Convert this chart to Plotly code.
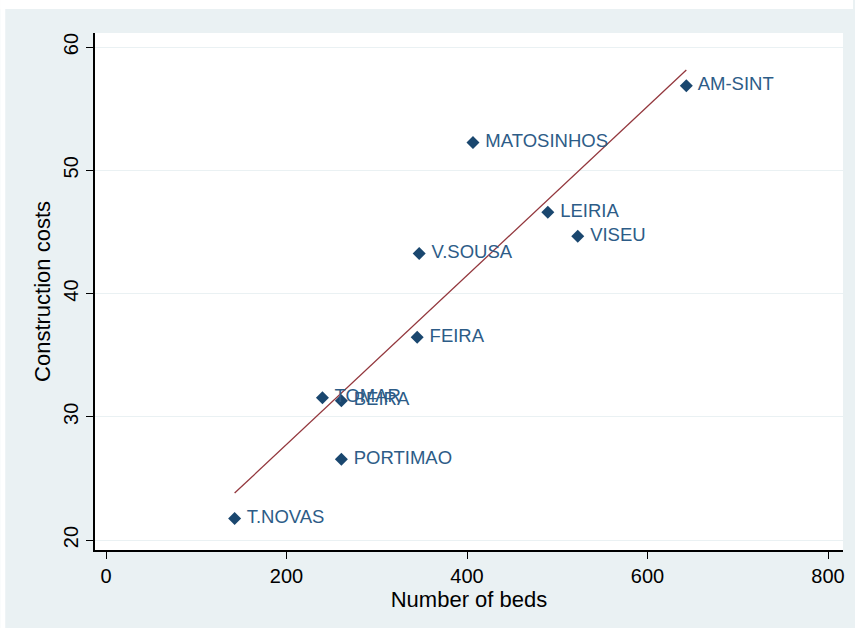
import numpy as np
import plotly.graph_objects as go

# Hospitals: number of beds vs construction costs
hospitals = ["T.NOVAS", "PORTIMAO", "TOMAR", "BEIRA", "FEIRA",
             "V.SOUSA", "MATOSINHOS", "LEIRIA", "VISEU", "AM-SINT"]
beds = [142.5, 260.8, 239.8, 260.8, 344.8, 347.0, 406.6, 489.5, 522.7, 643.0]
costs = [21.75, 26.55, 31.55, 31.3, 36.45, 43.25, 52.25, 46.6, 44.65, 56.85]

x_ticks = [0, 200, 400, 600, 800]
y_ticks = [20, 30, 40, 50, 60]

# Least-squares linear fit over the observed range of beds
slope, intercept = np.polyfit(beds, costs, 1)
fit_x = np.array([min(beds), max(beds)])
fit_y = slope * fit_x + intercept

W, H = 855, 628
L, R, T, B = 95, 10, 33, 78
PW, PH = W - L - R, H - T - B

NAVY = "#1a476f"
MAROON = "#93373d"
BG = "#eaf1f3"
FONT = "Liberation Sans, Arial, sans-serif"

fig = go.Figure()

fig.add_trace(go.Scatter(
    x=fit_x, y=fit_y, mode="lines",
    line=dict(color=MAROON, width=1.3),
    hoverinfo="skip", showlegend=False,
))

fig.add_trace(go.Scatter(
    x=beds, y=costs, mode="markers+text",
    text=[" " + h for h in hospitals], textposition="middle right",
    textfont=dict(family=FONT, size=18.5, color="#2d5c87"),
    marker=dict(symbol="diamond", size=10, color=NAVY),
    showlegend=False,
))


def px_x(p):
    return (p - L) / PW


def px_y(p):
    return (H - B - p) / PH


fig.update_layout(
    width=W, height=H,
    margin=dict(l=L, r=R, t=T, b=B),
    paper_bgcolor=BG, plot_bgcolor="white",
    font=dict(family=FONT, color="#000000"),
    shapes=[
        dict(type="rect", xref="paper", yref="paper", layer="below",
             x0=px_x(0), x1=px_x(W), y0=px_y(9), y1=px_y(0),
             fillcolor="white", line=dict(width=0)),
        dict(type="rect", xref="paper", yref="paper", layer="below",
             x0=px_x(0), x1=px_x(5), y0=px_y(H), y1=px_y(0),
             fillcolor="white", line=dict(width=0)),
    ],
    xaxis=dict(
        range=[-12.2, 816.6], tickvals=x_ticks,
        ticks="outside", ticklen=7, tickwidth=1.3, tickcolor="#000",
        showline=True, linecolor="#000", linewidth=1.5,
        showgrid=False, zeroline=False,
        tickfont=dict(size=20, family=FONT),
        title=dict(text="Number of beds", font=dict(size=22, family=FONT), standoff=1),
    ),
    yaxis=dict(
        range=[19.19, 61.14], tickvals=y_ticks, tickangle=-90,
        ticks="outside", ticklen=7, tickwidth=1.3, tickcolor="#000",
        showline=True, linecolor="#000", linewidth=1.5,
        showgrid=True, gridcolor=BG, gridwidth=1.3, zeroline=False,
        tickfont=dict(size=20, family=FONT),
        title=dict(text="Construction costs", font=dict(size=22, family=FONT), standoff=4),
    ),
)

fig.write_html("out.html")
